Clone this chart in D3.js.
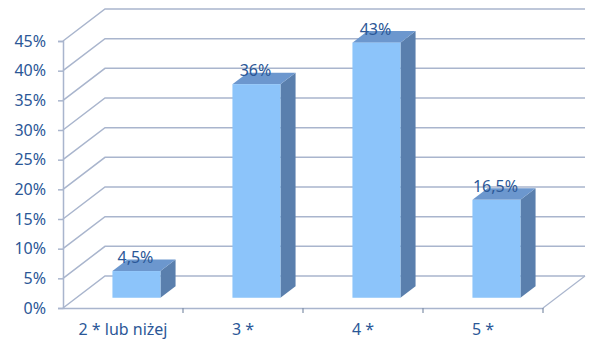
<!DOCTYPE html>
<html>
<head>
<meta charset="utf-8">
<script src="https://cdn.jsdelivr.net/npm/d3@7"></script>
<style>
  body { margin: 0; background: #fff; }
  svg { display: block; }
  text { font-family: "Noto Sans", "DejaVu Sans", sans-serif; fill: #2B5797; }
</style>
</head>
<body>
<svg></svg>
<script>
const categories = ["2 * lub niżej", "3 *", "4 *", "5 *"];
const values = [4.5, 36, 43, 16.5];
const valueLabels = ["4,5%", "36%", "43%", "16,5%"];
const yTicks = [0, 5, 10, 15, 20, 25, 30, 35, 40, 45];

const width = 600;
const height = 343;
const plotLeft = 63;
const plotRight = 543;
const plotBottom = 308;
const plotTop = 41;
// depth of the 3d box
const depthX = 42;
const depthY = -32;
const barD0 = 0.32;
const barD1 = 0.68;

const gridColor = "#A9B5CD";

const svg = d3.select("svg")
  .attr("width", width)
  .attr("height", height);

const xScale = d3.scaleBand()
  .domain(categories)
  .range([plotLeft, plotRight]);

const yScale = d3.scaleLinear()
  .domain([0, 45])
  .range([plotBottom, plotTop]);

// back wall grid + side diagonals
const grid = svg.append("g");
yTicks.forEach(t => {
  const y = yScale(t);
  grid.append("path")
      .attr("d", "M" + plotLeft + "," + y + "L" + (plotLeft + depthX) + "," + (y + depthY) +
                 "L" + (plotRight + depthX) + "," + (y + depthY))
      .attr("fill", "none")
      .attr("stroke", gridColor)
      .attr("stroke-width", 1.5);
});

// floor right edge
grid.append("line")
    .attr("x1", plotRight).attr("y1", plotBottom)
    .attr("x2", plotRight + depthX).attr("y2", plotBottom + depthY)
    .attr("stroke", gridColor)
    .attr("stroke-width", 1.2);

// y axis
const yAxis = d3.axisLeft(yScale)
  .tickValues(yTicks)
  .tickSize(5)
  .tickPadding(12)
  .tickFormat(d => d + "%");

const yg = svg.append("g")
  .attr("transform", "translate(" + plotLeft + ",0)")
  .call(yAxis);
yg.select(".domain").attr("stroke", gridColor).attr("stroke-width", 1.5);
yg.selectAll(".tick line").attr("stroke", gridColor).attr("stroke-width", 1.5);
yg.selectAll(".tick text").attr("font-size", 16).style("fill", "#2B5797");

// x axis
const xAxis = d3.axisBottom(xScale)
  .tickSize(0)
  .tickPadding(16);

const xg = svg.append("g")
  .attr("transform", "translate(0," + plotBottom + ")")
  .call(xAxis);
xg.select(".domain").attr("stroke", gridColor).attr("stroke-width", 1.5);
xg.selectAll(".tick text").attr("font-size", 16).style("fill", "#2B5797");
// category separators
xg.selectAll(".sep")
  .data(categories)
  .enter()
  .append("line")
  .attr("class", "sep")
  .attr("x1", d => xScale(d) + xScale.bandwidth())
  .attr("x2", d => xScale(d) + xScale.bandwidth())
  .attr("y1", 0)
  .attr("y2", 5)
  .attr("stroke", "#8090A8")
  .attr("stroke-width", 1.2);

// bars
const barW = xScale.bandwidth() * 0.4;
const bars = svg.append("g");

categories.forEach((c, i) => {
  const cx = xScale(c) + xScale.bandwidth() / 2;
  const fx0 = cx - barW / 2 + depthX * barD0;
  const fx1 = fx0 + barW;
  const fyB = yScale(0) + depthY * barD0;
  const fyT = yScale(values[i]) + depthY * barD0;
  const dx = depthX * (barD1 - barD0);
  const dy = depthY * (barD1 - barD0);

  // side
  bars.append("path")
      .attr("d", "M" + fx1 + "," + fyT + "L" + (fx1 + dx) + "," + (fyT + dy) +
                 "L" + (fx1 + dx) + "," + (fyB + dy) + "L" + fx1 + "," + fyB + "Z")
      .attr("fill", "#5A7FAD");
  // top
  bars.append("path")
      .attr("d", "M" + fx0 + "," + fyT + "L" + (fx0 + dx) + "," + (fyT + dy) +
                 "L" + (fx1 + dx) + "," + (fyT + dy) + "L" + fx1 + "," + fyT + "Z")
      .attr("fill", "#6C97CE");
  // front
  bars.append("rect")
      .attr("x", fx0)
      .attr("y", fyT)
      .attr("width", barW)
      .attr("height", fyB - fyT)
      .attr("fill", "#8CC4FA");

  bars.append("text")
      .attr("x", cx + depthX * barD0 - 1)
      .attr("y", fyT - 8)
      .attr("text-anchor", "middle")
      .attr("font-size", 16)
      .text(valueLabels[i]);
});
</script>
</body>
</html>
